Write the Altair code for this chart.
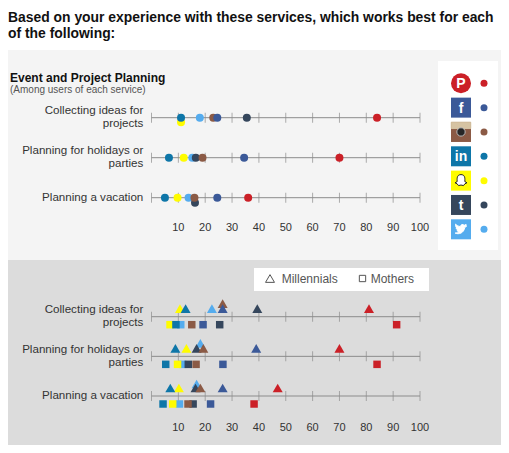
import altair as alt
import pandas as pd

FONT = "Liberation Sans"

services = ["Pinterest", "Facebook", "Instagram", "LinkedIn", "Snapchat", "Tumblr", "Twitter"]
colors = ["#cb2027", "#3b5998", "#8b5a45", "#0e76a8", "#fffc00", "#35465c", "#55acee"]
icon_shapes = ["circle", "square", "square", "square", "square", "square", "square"]
icon_glyphs = ["P", "f", "", "in", "", "t", ""]

rows = ["Collecting ideas for projects", "Planning for holidays or parties", "Planning a vacation"]
row_labels = ["Collecting ideas for\nprojects", "Planning for holidays or\nparties", "Planning a vacation"]
tick_values = [0, 10, 20, 30, 40, 50, 60, 70, 80, 90, 100]
tick_labels = [10, 20, 30, 40, 50, 60, 70, 80, 90, 100]

# values per service, in the order of `rows`
all_users = {
    "Pinterest": [84, 70, 36],
    "Facebook": [24.5, 34.5, 24.5],
    "Instagram": [23, 19, 16],
    "LinkedIn": [11, 6.5, 5],
    "Snapchat": [11, 12, 9.7],
    "Tumblr": [35.5, 16.5, 16.2],
    "Twitter": [18, 15.2, 13.8],
}
millennials = {
    "Pinterest": [81, 70, 47],
    "Facebook": [26.5, 39, 26.5],
    "Instagram": [26.5, 19.3, 18.2],
    "LinkedIn": [12.7, 8.9, 7],
    "Snapchat": [10.6, 13, 10.2],
    "Tumblr": [39.4, 16.8, 16.4],
    "Twitter": [22.5, 18.2, 16.8],
}
mothers = {
    "Pinterest": [91.3, 84, 38.2],
    "Facebook": [19.2, 26.6, 22],
    "Instagram": [15, 16.6, 13.6],
    "LinkedIn": [9.1, 5.3, 4.3],
    "Snapchat": [6.9, 9.7, 7.9],
    "Tumblr": [25.4, 13.7, 15.5],
    "Twitter": [10.9, 11.6, 10.4],
}

# small vertical nudges (px) the original uses to separate overlapping markers
nudges = {
    ("all", "Snapchat", 0): 4.5,
    ("all", "Tumblr", 2): 5,
    ("mil", "Instagram", 0): -5,
    ("mil", "Twitter", 1): -5,
    ("mil", "Twitter", 2): -4,
}
draw_order = ["Twitter", "Snapchat", "LinkedIn", "Tumblr", "Instagram", "Facebook", "Pinterest"]


def long_df(values, key, base):
    recs = []
    for s in draw_order:
        for i, r in enumerate(rows):
            recs.append({"service": s, "row": r, "value": values[s][i],
                         "off": base + nudges.get((key, s, i), 0)})
    return pd.DataFrame(recs)


W = 493
LINE_H = 13
x_scale = alt.Scale(domain=[0, 100], range=[143.5, 412], nice=False, zero=False)
color_scale = alt.Scale(domain=services, range=colors)
GREY = "#8c8c8c"


def axis_layers(y_scale, label_y):
    line_df = pd.DataFrame({"row": rows, "a": [0] * 3, "b": [100] * 3})
    rule = alt.Chart(line_df).mark_rule(color=GREY, strokeWidth=1).encode(
        x=alt.X("a:Q", scale=x_scale, axis=None), x2="b:Q",
        y=alt.Y("row:N", scale=y_scale, axis=None))
    tdf = pd.DataFrame([{"row": r, "t": t} for r in rows for t in tick_values])
    tks = alt.Chart(tdf).mark_tick(color=GREY, thickness=1, size=10, orient="vertical").encode(
        x=alt.X("t:Q", scale=x_scale, axis=None),
        y=alt.Y("row:N", scale=y_scale, axis=None))
    recs = []
    for r, lab in zip(rows, row_labels):
        parts = lab.split("\n")
        n = len(parts)
        for k, p in enumerate(parts):
            recs.append({"row": r, "line": p, "off": (k - (n - 1) / 2) * LINE_H})
    ldf = pd.DataFrame(recs)
    labels = alt.Chart(ldf).mark_text(align="right", baseline="middle",
                                      fontSize=11.6, color="#333333", font=FONT).encode(
        x=alt.value(135.3), y=alt.Y("row:N", scale=y_scale, axis=None),
        yOffset=alt.YOffset("off:Q", scale=None), text="line:N")
    tl = alt.Chart(pd.DataFrame({"t": tick_labels})).mark_text(
        fontSize=11, color="#333333", font=FONT, baseline="middle").encode(
        x=alt.X("t:Q", scale=x_scale, axis=None), y=alt.value(label_y), text="t:Q")
    return [rule, tks, labels, tl]


def text_one(txt, x, y, size, weight="normal", color="#111111", align="left", baseline="alphabetic"):
    return alt.Chart(pd.DataFrame({"t": [txt]})).mark_text(
        align=align, baseline=baseline, fontSize=size, fontWeight=weight, color=color, font=FONT).encode(
        x=alt.value(x), y=alt.value(y), text="t:N")


def rect_one(x, x2, y, y2, color):
    return alt.Chart(pd.DataFrame({"a": [0]})).mark_rect(color=color).encode(
        x=alt.value(x), x2=alt.value(x2), y=alt.value(y), y2=alt.value(y2))


# ---------- title panel ----------
title_panel = alt.layer(
    text_one("Based on your experience with these services, which works best for each", 0, 13.7, 13.9, "bold"),
    text_one("of the following:", 0, 30, 13.9, "bold"),
).properties(width=W, height=42, view=alt.ViewBackground(fill="white", stroke=None))

# ---------- top panel ----------
yA = alt.Scale(type="point", domain=rows, range=[67.7, 147.7], padding=0)
dfA = long_df(all_users, "all", 0)
dots = alt.Chart(dfA).mark_circle(size=64, opacity=1).encode(
    x=alt.X("value:Q", scale=x_scale, axis=None),
    y=alt.Y("row:N", scale=yA, axis=None),
    yOffset=alt.YOffset("off:Q", scale=None),
    color=alt.Color("service:N", scale=color_scale, legend=None))

yL = alt.Scale(type="point", domain=services, range=[33.3, 179.3], padding=0)
icon_df = pd.DataFrame({"service": services, "shape": icon_shapes, "glyph": icon_glyphs})
icons = alt.Chart(icon_df).mark_point(filled=True, opacity=1, size=400).encode(
    x=alt.value(453), y=alt.Y("service:N", scale=yL, axis=None),
    shape=alt.Shape("shape:N", scale=None),
    color=alt.Color("service:N", scale=color_scale, legend=None))
glyphs = alt.Chart(icon_df).mark_text(color="white", fontWeight="bold", fontSize=14,
                                      font=FONT, baseline="middle", dy=1).encode(
    x=alt.value(453), y=alt.Y("service:N", scale=yL, axis=None), text="glyph:N")

# simple pictograms drawn inside a few of the icons
band_path = "M-1,-1L1,-1L1,-0.35L-1,-0.35Z"
ghost_path = ("M0,-0.85C0.5,-0.85 0.55,-0.45 0.55,-0.15L0.55,0.15L0.85,0.3L0.55,0.45"
              "L0.35,0.7L0,0.62L-0.35,0.7L-0.55,0.45L-0.85,0.3L-0.55,0.15L-0.55,-0.15"
              "C-0.55,-0.45 -0.5,-0.85 0,-0.85Z")
bird_path = ("M-0.85,0.55C-0.3,0.8 0.4,0.55 0.55,-0.25L0.85,-0.5L0.58,-0.45L0.75,-0.7"
             "L0.45,-0.58C0.3,-0.78 -0.05,-0.72 -0.08,-0.4C-0.4,-0.42 -0.62,-0.58 -0.78,-0.75"
             "C-0.85,-0.48 -0.72,-0.28 -0.58,-0.18L-0.72,-0.22C-0.68,0 -0.52,0.1 -0.42,0.13"
             "L-0.57,0.16C-0.52,0.32 -0.32,0.38 -0.27,0.38C-0.42,0.48 -0.62,0.55 -0.85,0.55Z")
detail_df = pd.DataFrame({
    "service": ["Instagram", "Instagram", "Snapchat", "Twitter"],
    "shape": [band_path, "circle", ghost_path, bird_path],
    "fill": ["#d6c3a3", "#262626", "#ffffff", "#ffffff"],
    "stroke": ["#d6c3a3", "#bbbbbb", "#222222", "#ffffff"],
    "size": [380, 70, 200, 190],
})
details = alt.Chart(detail_df).mark_point(filled=True, opacity=1, strokeWidth=1).encode(
    x=alt.value(453), y=alt.Y("service:N", scale=yL, axis=None),
    shape=alt.Shape("shape:N", scale=None),
    color=alt.Color("fill:N", scale=None),
    stroke=alt.Stroke("stroke:N", scale=None),
    size=alt.Size("size:Q", scale=None))

legend_dots = alt.Chart(icon_df).mark_circle(size=49, opacity=1).encode(
    x=alt.value(476), y=alt.Y("service:N", scale=yL, axis=None),
    color=alt.Color("service:N", scale=color_scale, legend=None))

panelA = alt.layer(
    *axis_layers(yA, 178), dots,
    text_one("Event and Project Planning", 2, 31.7, 12, "bold"),
    text_one("(Among users of each service)", 2, 43, 10, "normal", "#555555"),
    rect_one(430, 490, 11, 200, "white"),
    icons, details, glyphs, legend_dots,
).resolve_scale(y="independent").properties(
    width=W, height=210, view=alt.ViewBackground(fill="#f4f4f4", stroke=None))

# ---------- bottom panel ----------
yB = alt.Scale(type="point", domain=rows, range=[56.7, 136], padding=0)
dfM = long_df(millennials, "mil", -8)
dfO = long_df(mothers, "mom", 8)
tri = alt.Chart(dfM).mark_point(shape="triangle-up", filled=True, opacity=1, size=100).encode(
    x=alt.X("value:Q", scale=x_scale, axis=None),
    y=alt.Y("row:N", scale=yB, axis=None),
    yOffset=alt.YOffset("off:Q", scale=None),
    color=alt.Color("service:N", scale=color_scale, legend=None))
sq = alt.Chart(dfO).mark_square(opacity=1, size=56).encode(
    x=alt.X("value:Q", scale=x_scale, axis=None),
    y=alt.Y("row:N", scale=yB, axis=None),
    yOffset=alt.YOffset("off:Q", scale=None),
    color=alt.Color("service:N", scale=color_scale, legend=None))

leg_tri = alt.Chart(pd.DataFrame({"a": [0]})).mark_point(
    shape="triangle-up", filled=False, size=80, color="#555555", strokeWidth=1, opacity=1).encode(
    x=alt.value(262), y=alt.value(18.5))
leg_sq = alt.Chart(pd.DataFrame({"a": [0]})).mark_point(
    shape="square", filled=False, size=40, color="#555555", strokeWidth=1, opacity=1).encode(
    x=alt.value(354.5), y=alt.value(18.5))

panelB = alt.layer(
    *axis_layers(yB, 168), sq, tri,
    rect_one(246, 421, 8, 31, "white"),
    leg_tri, text_one("Millennials", 273.7, 18.5, 12, "normal", "#555555", baseline="middle"),
    leg_sq, text_one("Mothers", 362.7, 18.5, 12, "normal", "#555555", baseline="middle"),
).resolve_scale(y="independent").properties(
    width=W, height=185, view=alt.ViewBackground(fill="#dcdcdc", stroke=None))

chart = alt.vconcat(title_panel, panelA, panelB, spacing=0, bounds="flush").properties(
    padding=0, background="white"
).configure_view(stroke=None)

chart.save("out.html", embed_options={"renderer": "svg", "actions": False})
